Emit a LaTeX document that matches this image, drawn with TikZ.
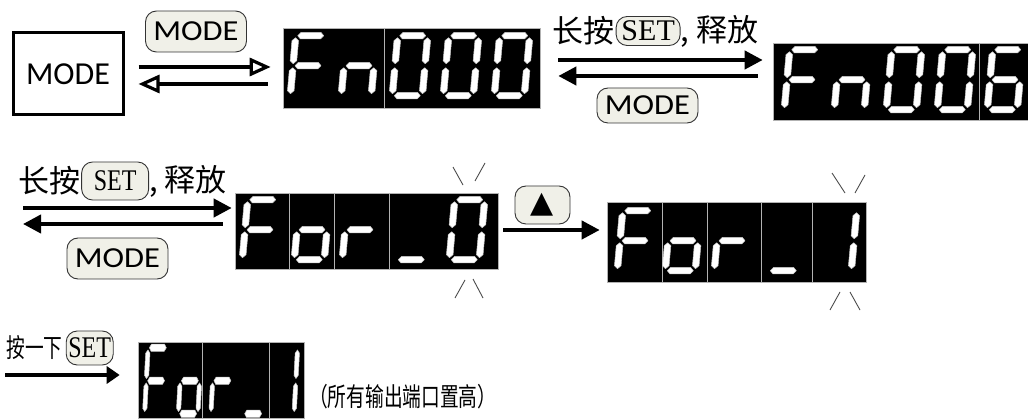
\documentclass[tikz,border=0pt]{standalone}
\usepackage{fontspec}
\usetikzlibrary{positioning, calc, arrows.meta}
\newfontfamily\cjkfont{Noto Sans CJK SC}
\newfontfamily\cjknarrow[FakeStretch=0.72]{Noto Sans CJK SC}
\newfontfamily\keyfont{Carlito}
\newfontfamily\keywide[FakeStretch=1.12]{Carlito}
\newfontfamily\setfont{Liberation Serif}
\newfontfamily\setthin[FakeStretch=0.8]{Liberation Serif}
\newfontfamily\symfont{DejaVu Sans}
\definecolor{keyfill}{RGB}{240,240,232}
\tikzset{
  segment/.style={fill=white, draw=gray!45, line width=0.5pt, line join=round}
}
% lit bars of a seven-segment digit
\newcommand{\hsegbar}[3]{\path[segment] (#1+2,#3) -- (#1+5,#3-3.3) -- (#2-5,#3-3.3) -- (#2-2,#3) -- (#2-5,#3+3.3) -- (#1+5,#3+3.3) -- cycle;}
\newcommand{\vsegbar}[3]{\path[segment] (#1,#2+2) -- (#1+3.3,#2+5) -- (#1+3.3,#3-5) -- (#1,#3-2) -- (#1-3.3,#3-5) -- (#1-3.3,#2+5) -- cycle;}
% digit at (x,y), bars: 0 top, 1 upper right, 2 lower right, 3 bottom, 4 lower left, 5 upper left, 6 middle
\newcommand{\segdigit}[3]{%
  \begin{scope}[shift={(#1,#2)}, xslant=0.09]
    \foreach \s in {#3}{%
      \ifcase\s\relax \hsegbar{0}{30}{0}%
      \or \vsegbar{30}{0}{30}%
      \or \vsegbar{30}{30}{60}%
      \or \hsegbar{0}{30}{60}%
      \or \vsegbar{0}{30}{60}%
      \or \vsegbar{0}{0}{30}%
      \or \hsegbar{0}{30}{30}%
      \fi}
  \end{scope}}
\begin{document}
\begin{tikzpicture}[x=1pt, y=-1pt,
  dispbox/.style={fill=black, draw=gray!60, line width=0.6pt, inner sep=0pt},
  divider/.style={draw=gray!60, line width=0.6pt},
  keybox/.style={draw, line width=3pt, minimum width=110, minimum height=82, font=\keyfont\fontsize{32}{36}\selectfont},
  button/.style={draw=black!80, fill=keyfill, rounded corners=11pt, line width=0.9pt, inner sep=0pt},
  modebtn/.style={button, minimum width=101, minimum height=41, font=\keywide\fontsize{29}{34}\selectfont},
  setkey/.style={button, minimum width=64, minimum height=29, font=\setfont\fontsize{30}{34}\selectfont},
  setkeythin/.style={button, minimum width=67, minimum height=38, font=\setthin\fontsize{30}{34}\selectfont},
  cjk/.style={inner sep=0pt, font=\cjkfont\fontsize{31}{36}\selectfont},
  cjksmall/.style={inner sep=0pt, font=\cjknarrow\fontsize{26}{30}\selectfont},
  openarrow/.style={line width=3.2pt, -{Triangle[fill=white, length=21pt, width=18pt]}},
  solidarrow/.style={line width=4pt, -{Triangle[length=18pt, width=18pt]}},
  blink/.style={draw=black!70, line width=0.9pt}
]
\useasboundingbox (0,0) rectangle (1028,419);

% first row
\node[keybox] (modebox) at (68,74) {MODE};
\node[modebtn] (mode1) at (196,31.5) {MODE};
\node[dispbox, minimum width=257, minimum height=80] (fn000) at (411.5,68) {};
\node[dispbox, minimum width=255, minimum height=77] (fn006) at (900.5,81.5) {};
\draw[divider] ([xshift=102]fn000.north west) -- ([xshift=102]fn000.south west);
\draw[divider] ([xshift=207]fn006.north west) -- ([xshift=207]fn006.south west);
\begin{scope}[shift={(fn000.north west)}]
  \segdigit{13}{8}{0,4,5,6}
  \segdigit{64}{8}{2,4,6}
  \foreach \x in {115,166,217} {\segdigit{\x}{8}{0,1,2,3,4,5}}
\end{scope}
\begin{scope}[shift={(fn006.north west)}]
  \segdigit{17}{7}{0,4,5,6}
  \segdigit{67}{7}{2,4,6}
  \segdigit{119}{7}{0,1,2,3,4,5}
  \segdigit{170}{7}{0,1,2,3,4,5}
  \segdigit{220}{7}{0,2,3,4,5,6}
\end{scope}
\node[cjk] (hold1) at (583.5,31) {长按};
\node[setkey, right=1pt of hold1] (set1) {SET};
\node[cjk, right=0pt of set1] (rel1) {,\hspace{7pt}释放};
\node[modebtn, minimum height=35] (mode2) at (647.5,105.5) {MODE};

\coordinate (m1) at ($(modebox.east)+(14,-7)$);
\draw[openarrow, shorten >=12pt] (m1) -- (m1 -| fn000.west);
\coordinate (m2) at ($(fn000.west)+(-15,16)$);
\draw[openarrow, shorten >=14pt] (m2) -- (m2 -| modebox.east);
\coordinate (s1) at ($(fn000.east)+(18,-8)$);
\draw[solidarrow, shorten >=10pt] (s1) -- (s1 -| fn006.west);
\coordinate (s2) at ($(fn006.west)+(-15,-5.5)$);
\draw[solidarrow, shorten >=18pt] (s2) -- (s2 -| fn000.east);

% second row
\node[cjk] (hold2) at (49,181) {长按};
\node[setkeythin, right=1pt of hold2] (set2) {SET};
\node[cjk, right=0pt of set2] (rel2) {,\hspace{7pt}释放};
\node[modebtn] (mode3) at (117.5,258.5) {MODE};
\node[dispbox, minimum width=263, minimum height=76] (for0) at (366.5,231) {};
\node[button, minimum width=55, minimum height=38, font=\symfont\fontsize{30}{34}\selectfont] (upkey) at (542.5,205) {▲};
\node[dispbox, minimum width=259, minimum height=80] (for1) at (736.5,242) {};
\foreach \d in {55,100,155} \draw[divider] ([xshift=\d]for0.north west) -- ([xshift=\d]for0.south west);
\foreach \d in {56,101,155,206} \draw[divider] ([xshift=\d]for1.north west) -- ([xshift=\d]for1.south west);
\begin{scope}[shift={(for0.north west)}]
  \segdigit{13}{7}{0,4,5,6}
  \segdigit{65}{7}{2,3,4,6}
  \segdigit{113}{7}{4,6}
  \segdigit{167}{7}{3}
  \segdigit{220}{7}{0,1,2,3,4,5}
\end{scope}
\begin{scope}[shift={(for1.north west)}]
  \segdigit{16}{9}{0,4,5,6}
  \segdigit{64}{9}{2,3,4,6}
  \segdigit{113}{9}{4,6}
  \segdigit{167}{9}{3}
  \segdigit{220}{9}{1,2}
\end{scope}
\draw[blink] (453,167) -- (463,185);
\draw[blink] (485,163) -- (475,181);
\draw[blink] (455,298) -- (465,280);
\draw[blink] (473,279) -- (483,298);
\draw[blink] (832,173) -- (845,193);
\draw[blink] (865,175) -- (855,193);
\draw[blink] (830,310) -- (840,292);
\draw[blink] (850,292) -- (860,310);

\coordinate (in2) at (23,208);
\draw[solidarrow, shorten >=3pt] (in2) -- (in2 -| for0.west);
\coordinate (b3) at ($(for0.west)+(-12,-7)$);
\coordinate (out2) at (23,224);
\draw[solidarrow] (b3) -- (out2);
\coordinate (u1) at ($(for0.east)+(5,-1)$);
\draw[solidarrow, shorten >=7pt] (u1) -- (u1 -| for1.west);

% third row
\node[cjksmall] (press) at (34.5,348) {按一下};
\node[setkeythin, minimum width=47, minimum height=34, right=3pt of press] (set3) {SET};
\node[dispbox, minimum width=166, minimum height=76] (for2) at (221,380) {};
\foreach \d in {65,132} \draw[divider] ([xshift=\d]for2.north west) -- ([xshift=\d]for2.south west);
\begin{scope}[shift={(for2.north west)}, xscale=0.65, yscale=1.1]
  \segdigit{16}{5.5}{0,4,5,6}
  \segdigit{68}{5.5}{2,3,4,6}
  \segdigit{118}{5.5}{4,6}
  \segdigit{168}{5.5}{3}
  \segdigit{216}{5.5}{1,2}
\end{scope}
\node[cjksmall, anchor=west] (note) at (309,397) {（所有输出端口置高）};
\coordinate (in3) at (5,375);
\draw[solidarrow, -{Triangle[length=13pt, width=17pt]}, shorten >=18pt] (in3) -- (in3 -| for2.west);
\end{tikzpicture}
\end{document}
